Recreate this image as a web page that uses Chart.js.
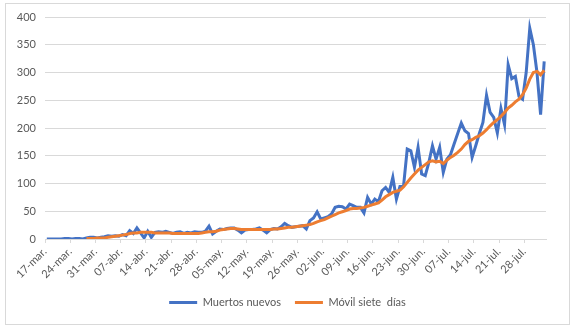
<!DOCTYPE html>
<html>
<head>
<meta charset="utf-8">
<script src="https://cdn.jsdelivr.net/npm/chart.js@4.4.1/dist/chart.umd.min.js"></script>
<style>
  html, body { margin: 0; padding: 0; background: #fff; }
  #box { position: absolute; left: 5px; top: 3px; width: 563px; height: 320px; border: 1px solid #d9d9d9; }
  canvas { display: block; }
</style>
</head>
<body>
<div id="box"><canvas id="chart" width="563" height="320"></canvas></div>
<script>
// daily series, one value per day from 17-mar. to 02-ago.
const firstDay = '2020-03-17';
const dayCount = 139;
const monthNames = ['ene.', 'feb.', 'mar.', 'abr.', 'may.', 'jun.', 'jul.', 'ago.'];

const tickLabels = ['17-mar.', '24-mar.', '31-mar.', '07-abr.', '14-abr.', '21-abr.', '28-abr.',
  '05-may.', '12-may.', '19-may.', '26-may.', '02-jun.', '09-jun.', '16-jun.', '23-jun.',
  '30-jun.', '07-jul.', '14-jul.', '21-jul.', '28-jul.'];

const seriesNames = ['Muertos nuevos', 'Móvil siete  días'];

const muertosNuevos = [
  0, 0, 0, 0, 0, 1, 1, 0, 1, 1,
  0, 2, 3, 3, 2, 3, 4, 6, 5, 6,
  5, 8, 6, 15, 10, 20, 11, 2, 14, 3,
  12, 13, 12, 14, 12, 10, 12, 13, 10, 12,
  11, 13, 12, 12, 14, 23, 9, 14, 18, 17,
  19, 20, 20, 16, 11, 16, 17, 17, 18, 20,
  16, 11, 17, 19, 18, 22, 28, 24, 21, 22,
  23, 24, 18, 33, 38, 49, 36, 38, 40, 45,
  57, 59, 58, 54, 63, 60, 57, 57, 47, 75,
  63, 72, 67, 87, 93, 84, 111, 72, 95, 97,
  162, 159, 129, 165, 117, 114, 138, 168, 144, 165,
  120, 144, 152, 171, 190, 209, 195, 190, 147, 168,
  190, 210, 259, 228, 219, 191, 235, 206, 314, 289,
  293, 257, 252, 300, 380, 350, 300, 224, 320
];

const movilSiete = [
  null, null, null, null, null, null, null, null, null, null,
  null, 1, 1, 1, 2, 2, 2, 3, 4, 5,
  6, 7, 8, 10, 11, 11, 12, 12, 12, 12,
  11, 11, 11, 11, 11, 10, 10, 10, 10, 10,
  10, 10, 10, 11, 12, 13, 13, 14, 16, 17,
  18, 19, 19, 18, 17, 17, 17, 17, 17, 17,
  17, 17, 17, 18, 18, 19, 20, 21, 21, 22,
  23, 24, 25, 26, 28, 31, 33, 35, 38, 41,
  44, 47, 49, 51, 54, 55, 55, 56, 57, 59,
  61, 63, 65, 70, 76, 80, 84, 86, 88, 94,
  102, 110, 117, 124, 129, 134, 139, 141, 139, 140,
  136, 142, 147, 151, 156, 162, 170, 176, 179, 183,
  186, 191, 197, 204, 210, 215, 221, 228, 236, 241,
  247, 252, 260, 272, 288, 300, 302, 296, 304
];

const days = [];
const d0 = new Date(firstDay + 'T00:00:00Z');
for (let i = 0; i < dayCount; i++) {
  const d = new Date(d0.getTime() + i * 86400000);
  days.push(String(d.getUTCDate()).padStart(2, '0') + '-' + monthNames[d.getUTCMonth()]);
}

const textColor = '#595959';
const gridColor = '#d9d9d9';
Chart.defaults.font.family = 'Lato, "Liberation Sans", sans-serif';
Chart.defaults.font.size = 11;
Chart.defaults.color = textColor;

new Chart(document.getElementById('chart'), {
  type: 'line',
  data: {
    labels: days,
    datasets: [{
      label: seriesNames[0],
      data: muertosNuevos,
      borderColor: '#4472c4',
      backgroundColor: '#4472c4',
      borderWidth: 3,
      pointRadius: 0,
      pointStyle: 'line',
      tension: 0,
      order: 2
    }, {
      label: seriesNames[1],
      data: movilSiete,
      borderColor: '#ed7d31',
      backgroundColor: '#ed7d31',
      borderWidth: 3,
      pointRadius: 0,
      pointStyle: 'line',
      tension: 0,
      spanGaps: false,
      order: 1
    }]
  },
  options: {
    responsive: false,
    animation: false,
    layout: { padding: { top: 13, right: 0, bottom: 6, left: 0 } },
    plugins: {
      tooltip: { enabled: false },
      legend: {
        position: 'bottom',
        labels: {
          usePointStyle: true,
          pointStyle: 'line',
          pointStyleWidth: 28,
          padding: 14,
          color: textColor,
          sort: (a, b) => a.datasetIndex - b.datasetIndex
        }
      }
    },
    scales: {
      x: {
        type: 'category',
        offset: true,
        afterFit: (s) => { s.height = 44; },
        border: { color: gridColor },
        grid: {
          offset: true,
          drawOnChartArea: false,
          tickLength: 4,
          color: (ctx) => (ctx.index % 7 === 0 ? gridColor : 'rgba(0,0,0,0)')
        },
        ticks: {
          autoSkip: false,
          maxRotation: 45,
          minRotation: 45,
          labelOffset: -2,
          padding: 2,
          callback: (v, i) => (i % 7 === 0 ? tickLabels[i / 7] : '')
        }
      },
      y: {
        min: 0,
        max: 400,
        afterFit: (s) => { s.width = 39; s.paddingTop = 0; s.paddingBottom = 0; },
        border: { display: false },
        grid: { color: gridColor, drawTicks: false },
        ticks: { stepSize: 50, padding: 9 }
      },
      // empty margin on the right of the plot
      yRight: {
        position: 'right',
        min: 0,
        max: 400,
        afterFit: (s) => { s.width = 23; s.paddingTop = 0; s.paddingBottom = 0; },
        border: { display: false },
        grid: { display: false },
        ticks: { display: false }
      }
    }
  }
});
</script>
</body>
</html>
